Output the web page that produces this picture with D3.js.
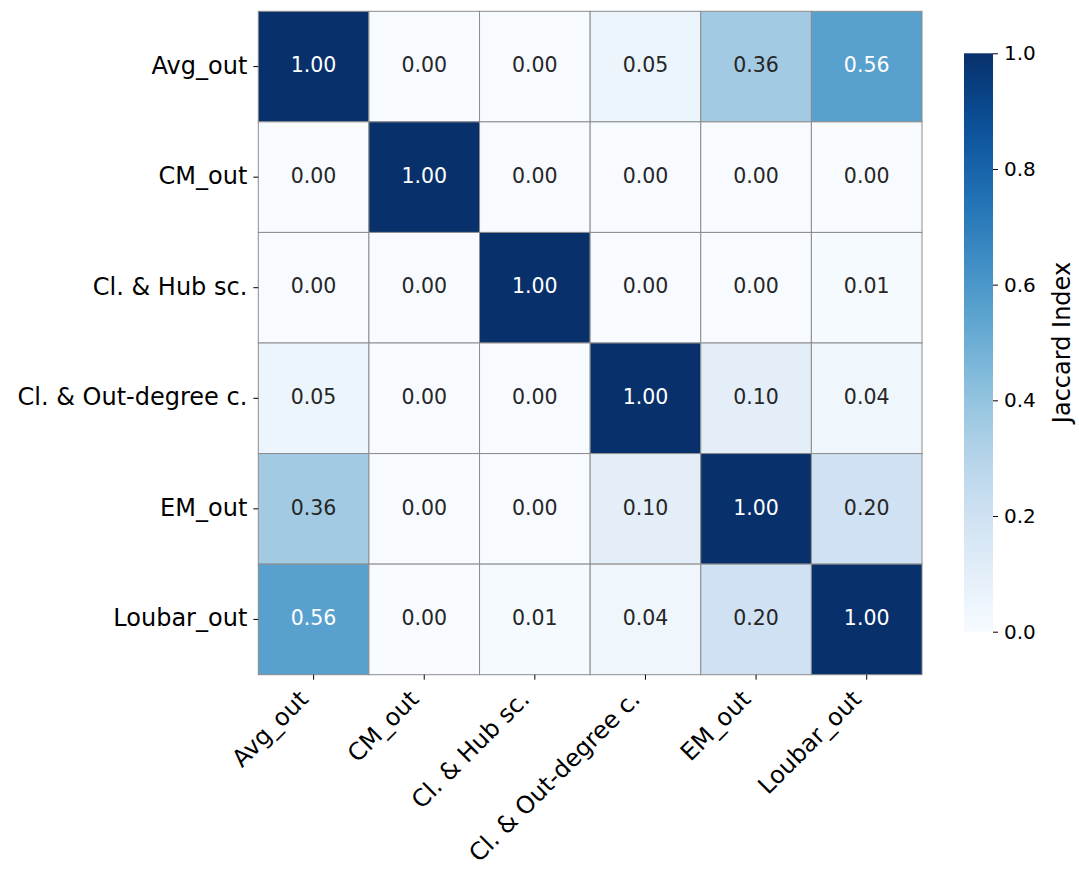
<!DOCTYPE html>
<html><head><meta charset="utf-8">
<script src="https://cdn.jsdelivr.net/npm/d3@7"></script>
<style>body{margin:0;background:#fff;} svg{display:block;font-family:"DejaVu Sans",sans-serif;}</style>
</head><body>
<svg id="c" width="1079" height="881"></svg>
<script>
const labels = ["Avg_out","CM_out","Cl. & Hub sc.","Cl. & Out-degree c.","EM_out","Loubar_out"];
const matrix = [
  [1.00,0.00,0.00,0.05,0.36,0.56],
  [0.00,1.00,0.00,0.00,0.00,0.00],
  [0.00,0.00,1.00,0.00,0.00,0.01],
  [0.05,0.00,0.00,1.00,0.10,0.04],
  [0.36,0.00,0.00,0.10,1.00,0.20],
  [0.56,0.00,0.01,0.04,0.20,1.00]
];
const cbTicks = [0.0,0.2,0.4,0.6,0.8,1.0];
const cbLabel = "Jaccard Index";

const svg = d3.select("#c");
const L = 258.3, T = 11.3, W = 663.7, H = 663.4;
const x = d3.scaleBand().domain(labels).range([L, L+W]);
const y = d3.scaleBand().domain(labels).range([T, T+H]);
const color = d3.scaleSequential(d3.interpolateBlues).domain([0,1]);

const cells = [];
matrix.forEach((row,i)=>row.forEach((v,j)=>cells.push({r:labels[i],c:labels[j],v})));

function lum(c){
  const rgb = d3.rgb(c);
  const f = v=>{v/=255;return v<=0.03928? v/12.92 : Math.pow((v+0.055)/1.055,2.4);};
  return 0.2126*f(rgb.r)+0.7152*f(rgb.g)+0.0722*f(rgb.b);
}

svg.append("g").selectAll("rect").data(cells).join("rect")
  .attr("x",d=>x(d.c)).attr("y",d=>y(d.r))
  .attr("width",x.bandwidth()).attr("height",y.bandwidth())
  .attr("fill",d=>color(d.v)).attr("stroke","#8c8c8c").attr("stroke-width",1);

svg.append("g").selectAll("text").data(cells).join("text")
  .attr("x",d=>x(d.c)+x.bandwidth()/2).attr("y",d=>y(d.r)+y.bandwidth()/2)
  .attr("text-anchor","middle").attr("dy","0.28em")
  .attr("font-size",20.5)
  .attr("fill",d=>lum(color(d.v))>0.408?"#262626":"#ffffff")
  .text(d=>d.v.toFixed(2));

// axes
const yAxis = svg.append("g").attr("transform",`translate(${L},0)`)
  .call(d3.axisLeft(y).tickSize(5).tickPadding(6));
yAxis.select(".domain").remove();
yAxis.selectAll("text").attr("font-size",24).attr("fill","#000").attr("font-family","DejaVu Sans").attr("dy","0.29em");
yAxis.selectAll("line").attr("stroke","#000");

const xAxis = svg.append("g").attr("transform",`translate(0,${T+H})`)
  .call(d3.axisBottom(x).tickSize(5).tickPadding(4));
xAxis.select(".domain").remove();
xAxis.selectAll("line").attr("stroke","#000");
xAxis.selectAll("text").attr("font-size",24).attr("fill","#000").attr("font-family","DejaVu Sans")
  .attr("text-anchor","end").attr("x",0).attr("y",0).attr("dy",0)
  .attr("transform","translate(-4,26) rotate(-45)");

// colorbar
const cbX = 964, cbW = 29, cbTop = 53.3, cbBot = 631.7;
const cy = d3.scaleLinear().domain([0,1]).range([cbBot, cbTop]);
const defs = svg.append("defs");
const grad = defs.append("linearGradient").attr("id","g").attr("x1",0).attr("y1",1).attr("x2",0).attr("y2",0);
d3.range(0,1.0001,0.05).forEach(t=>grad.append("stop").attr("offset",t).attr("stop-color",color(t)));
svg.append("rect").attr("x",cbX).attr("y",cbTop).attr("width",cbW).attr("height",cbBot-cbTop).attr("fill","url(#g)");
const cAxis = svg.append("g").attr("transform",`translate(${cbX+cbW},0)`)
  .call(d3.axisRight(cy).tickValues(cbTicks).tickFormat(d3.format(".1f")).tickSize(5).tickPadding(6));
cAxis.select(".domain").remove();
cAxis.selectAll("line").attr("stroke","#000");
cAxis.selectAll("text").attr("font-size",20).attr("fill","#000").attr("font-family","DejaVu Sans").attr("dy","0.32em");
svg.append("text").attr("transform",`translate(1061,${(cbTop+cbBot)/2}) rotate(-90)`)
  .attr("text-anchor","middle").attr("dy","0.36em")
  .attr("font-size",24).attr("fill","#000").text(cbLabel);
</script>
</body></html>
